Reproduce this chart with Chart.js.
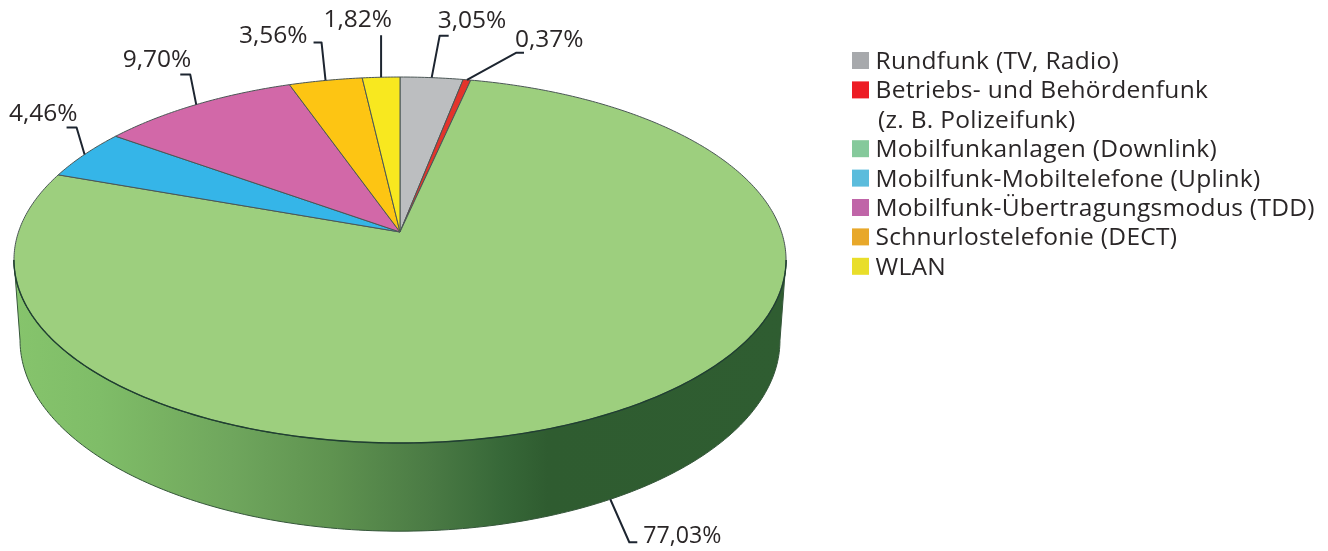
<!DOCTYPE html>
<html><head><meta charset="utf-8">
<style>html,body{margin:0;padding:0;background:#fff}canvas{display:block}</style>
<script src="https://cdn.jsdelivr.net/npm/chart.js@4/dist/chart.umd.min.js"></script>
</head><body><canvas id="c" width="1328" height="551"></canvas>
<script>
const categories = ['Rundfunk (TV, Radio)', 'Betriebs- und Behördenfunk', 'Mobilfunkanlagen (Downlink)', 'Mobilfunk-Mobiltelefone (Uplink)', 'Mobilfunk-Übertragungsmodus (TDD)', 'Schnurlostelefonie (DECT)', 'WLAN'];
const categoryNotes = [null, '(z. B. Polizeifunk)', null, null, null, null, null];
const values = [3.05, 0.37, 77.03, 4.46, 9.70, 3.56, 1.82];
const valueLabels = ['3,05%', '0,37%', '77,03%', '4,46%', '9,70%', '3,56%', '1,82%'];
const sliceColors = ['#bcbec0', '#e3342b', '#9dcf7e', '#35b5e8', '#d268a8', '#fdc513', '#f8e81f'];
const legendColors = ['#a7a9ac', '#ed1c24', '#85c99b', '#5bbcdc', '#c065a8', '#e8a82a', '#e9de2a'];

const FONT = '24.5px "Open Sans"';
const FONT_WIDE_LABEL = '23.2px "Open Sans"';
const INK = '#2a2627';
// perspective of the pie's top face and of its lower face
const top3d = {cx: 400, cy: 232, a: 381.5, b: 178.7, k: -0.153};
const low3d = {cx: 400, cy: 311, a: 375.5, b: 186.5, k: -0.153};
const SIDE = Math.asin(0.153); // angle of the widest point of the projected disc
const project = (p, u, v) => { const w = 1 + p.k * v; return [p.cx + p.a * u / w, p.cy + p.b * v / w]; };
// leader layout per slice: elbow / stub offsets from the rim point, label anchor offset from stub end
const callouts = [
  {elbow: [8, -42], stub: [9, 0], text: [-11, -8], align: 'left'},
  {elbow: [49, -27], stub: [8, 0], text: [-9, -6], align: 'left'},
  {elbow: [19, 43], stub: [8, 0], text: [6, 1], align: 'left', lower: true},
  {elbow: [-8, -27], stub: [-10, 0], text: [11, -7], align: 'right'},
  {elbow: [-6, -30], stub: [-10, 0], text: [11, -8], align: 'right'},
  {elbow: [-4, -38], stub: [-8, 0], text: [-6, 1], align: 'right'},
  {elbow: [0, -42], stub: [0, 0], text: [11, -8], align: 'right'}
];

function ring(ctx, p, from, to, move) {
  const steps = 180;
  for (let i = 0; i <= steps; i++) {
    const t = from + (to - from) * i / steps;
    const q = project(p, Math.cos(t), Math.sin(t));
    if (i === 0 && move) ctx.moveTo(q[0], q[1]); else ctx.lineTo(q[0], q[1]);
  }
}

const pie3d = {
  id: 'pie3d',
  beforeDatasetsDraw(chart) {
    const ctx = chart.ctx;
    // side wall, using the green slice's colour family
    const g = ctx.createLinearGradient(15, 0, 787, 0);
    [[0, '#86c46c'], [0.11, '#7fbd68'], [0.19, '#78b262'], [0.28, '#6fa65d'], [0.41, '#5f9350'], [0.54, '#4a7a44'], [0.63, '#376838'], [0.69, '#2f5c30'], [1, '#2f5d31']]
      .forEach(s => g.addColorStop(s[0], s[1]));
    ctx.save();
    ctx.beginPath();
    ring(ctx, top3d, SIDE, Math.PI - SIDE, true);
    ring(ctx, low3d, Math.PI - SIDE, SIDE, false);
    ctx.closePath();
    ctx.fillStyle = g;
    ctx.fill();
    ctx.lineWidth = 1;
    ctx.strokeStyle = '#35563a';
    ctx.stroke();
    ctx.restore();

    // route the library's arc drawing through the top-face perspective
    const arc0 = chart.getDatasetMeta(0).data[0];
    const R = arc0.outerRadius, X = arc0.x, Y = arc0.y;
    const map = (x, y) => project(top3d, (x - X) / R, (y - Y) / R);
    const nativeLine = ctx.lineTo.bind(ctx), nativeMove = ctx.moveTo.bind(ctx);
    ctx.lineTo = (x, y) => { const q = map(x, y); nativeLine(q[0], q[1]); };
    ctx.moveTo = (x, y) => { const q = map(x, y); nativeMove(q[0], q[1]); };
    ctx.arc = (x, y, r, a0, a1, ccw) => {
      let d = a1 - a0;
      if (ccw && d > 0) d -= 2 * Math.PI;
      const n = Math.max(2, Math.ceil(Math.abs(d) * 90));
      for (let i = 0; i <= n; i++) {
        const t = a0 + d * i / n;
        const q = map(x + r * Math.cos(t), y + r * Math.sin(t));
        nativeLine(q[0], q[1]);
      }
    };
  },
  afterDatasetsDraw(chart) {
    const ctx = chart.ctx;
    delete ctx.lineTo; delete ctx.moveTo; delete ctx.arc;
    const meta = chart.getDatasetMeta(0).data;

    // darker front rim of the top face
    ctx.save();
    ctx.beginPath();
    ring(ctx, top3d, SIDE, Math.PI - SIDE, true);
    ctx.strokeStyle = '#1f4030';
    ctx.lineWidth = 1.4;
    ctx.stroke();

    // leaders and value labels
    ctx.textBaseline = 'alphabetic';
    meta.forEach((arc, i) => {
      const mid = (arc.startAngle + arc.endAngle) / 2;
      const c = callouts[i];
      const s = project(c.lower ? low3d : top3d, Math.cos(mid), Math.sin(mid));
      const e = [s[0] + c.elbow[0], s[1] + c.elbow[1]];
      const t = [e[0] + c.stub[0], e[1] + c.stub[1]];
      ctx.beginPath();
      ctx.moveTo(s[0], s[1]); ctx.lineTo(e[0], e[1]); ctx.lineTo(t[0], t[1]);
      ctx.strokeStyle = '#1d2530';
      ctx.lineWidth = 2;
      ctx.lineJoin = 'round';
      ctx.stroke();
      ctx.fillStyle = INK;
      ctx.textAlign = c.align;
      ctx.font = c.lower ? FONT_WIDE_LABEL : FONT;
      ctx.fillText(valueLabels[i], t[0] + c.text[0], t[1] + c.text[1]);
    });

    // legend
    ctx.font = FONT;
    ctx.textAlign = 'left';
    ctx.letterSpacing = '0.3px';
    let y = 69;
    categories.forEach((name, i) => {
      ctx.fillStyle = legendColors[i];
      ctx.fillRect(852, y - 17, 17, 17);
      ctx.fillStyle = INK;
      ctx.fillText(name, 875.5, y);
      y += 29.4;
      if (categoryNotes[i]) { ctx.fillText(categoryNotes[i], 878, y); y += 29.4; }
    });
    ctx.restore();
  }
};

new Chart(document.getElementById('c'), {
  type: 'pie',
  data: {labels: categories, datasets: [{data: values, backgroundColor: sliceColors, borderColor: '#4a5655', borderWidth: 1}]},
  options: {responsive: false, animation: false, plugins: {legend: {display: false}, tooltip: {enabled: false}}},
  plugins: [pie3d]
});
</script></body></html>
